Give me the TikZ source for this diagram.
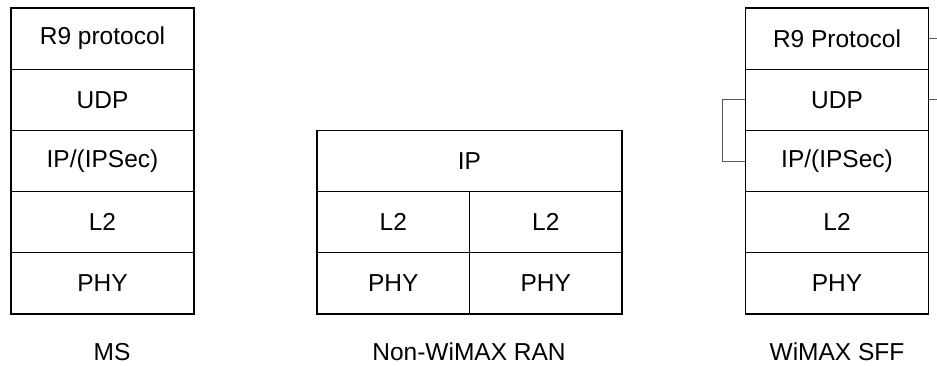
\documentclass[tikz,border=0pt]{standalone}
\usepackage{fontspec}
\setmainfont{Liberation Sans}
\begin{document}
\begin{tikzpicture}[x=1pt,y=-1pt,
  layer/.style={draw=black,line width=1.3pt,rectangle,inner sep=0pt,
    minimum height=61.2pt,font=\fontsize{24.5}{28}\selectfont},
  wide/.style={layer,minimum width=183pt},
  half/.style={layer,minimum width=152.5pt},
  full/.style={layer,minimum width=305pt},
  caption/.style={font=\fontsize{24.5}{28}\selectfont},
  thin/.style={draw=black!65,line width=0.8pt}]
\useasboundingbox (0,0) rectangle (937,365);
% MS
\node[wide] (ms1) at (102.5,38.6) {R9 protocol};
\node[wide] (ms2) at (102.5,99.8) {UDP};
\node[wide] (ms3) at (102.5,161) {IP/(IPSec)};
\node[wide] (ms4) at (102.5,222.2) {L2};
\node[wide] (ms5) at (102.5,283.4) {PHY};
% Non-WiMAX RAN
\node[full] (rip) at (469.5,161) {IP};
\node[half] (rl2a) at (393.25,222.2) {L2};
\node[half] (rl2b) at (545.75,222.2) {L2};
\node[half] (rphya) at (393.25,283.4) {PHY};
\node[half] (rphyb) at (545.75,283.4) {PHY};
% WiMAX SFF
\node[wide] (sf1) at (837,38.6) {R9 Protocol};
\node[wide] (sf2) at (837,99.8) {UDP};
\node[wide] (sf3) at (837,161) {IP/(IPSec)};
\node[wide] (sf4) at (837,222.2) {L2};
\node[wide] (sf5) at (837,283.4) {PHY};
% captions
\node[caption] (cms) at (112,352) {MS};
\node[caption] (cran) at (469,352) {Non-WiMAX RAN};
\node[caption] (csff) at (837,352) {WiMAX SFF};
% links
\coordinate (t1) at (937,38.6);
\coordinate (t2) at (937,99.8);
\draw[thin] (sf1.east) -- (t1);
\draw[thin] (sf2.east) -- (t2);
\draw[thin] (sf2.west) -- ++(-22,0) |- (sf3.west);
\end{tikzpicture}
\end{document}
